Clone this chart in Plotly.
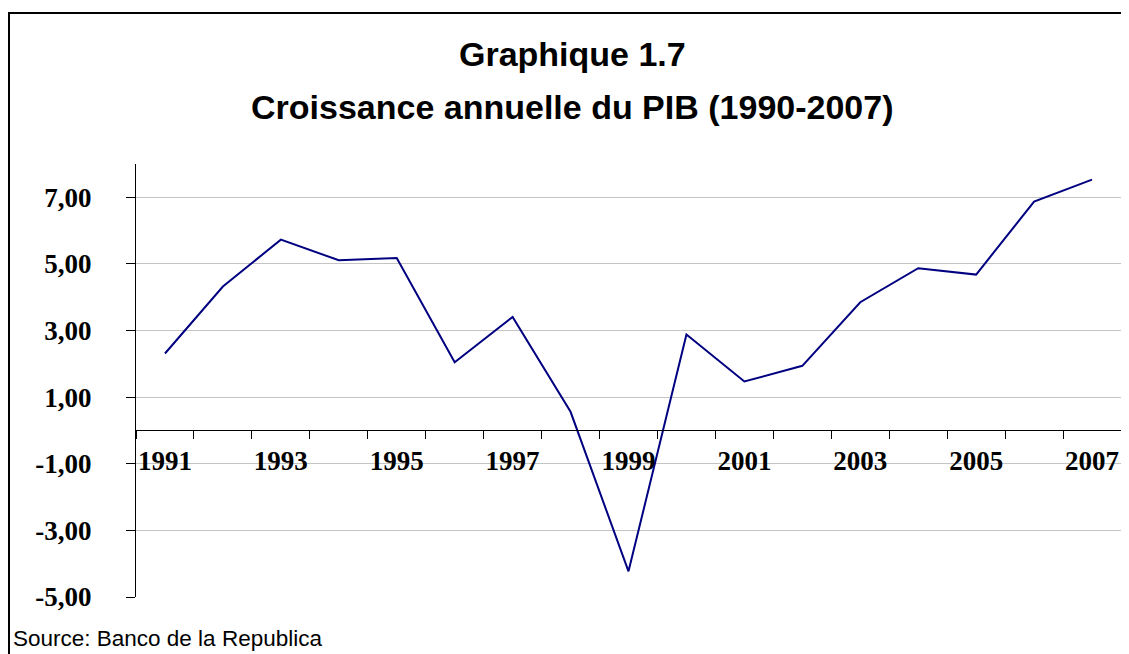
import plotly.graph_objects as go

years = list(range(1991, 2008))
growth = [2.31, 4.32, 5.73, 5.11, 5.18, 2.05, 3.41, 0.56, -4.23, 2.88,
          1.47, 1.94, 3.85, 4.87, 4.68, 6.87, 7.53]
label_years = [1991, 1993, 1995, 1997, 1999, 2001, 2003, 2005, 2007]
y_ticks = [-5, -3, -1, 1, 3, 5, 7]
y_labels = ["-5,00", "-3,00", "-1,00", "1,00", "3,00", "5,00", "7,00"]
title_line1 = "Graphique 1.7"
title_line2 = "Croissance annuelle du PIB (1990-2007)"
source_text = "Source: Banco de la Republica"

OFF = 8  # page body margin
W, H = 1129 - OFF, 654 - OFF
# plot area in screen pixels: x 136..1121, y 164..597
L = 136 - OFF
R = W - (1121 - OFF)
T = 164 - OFF
B = H - (597 - OFF)
pw, ph = W - L - R, H - T - B

def px_x(sx):
    return (sx - OFF - L) / pw

def px_y(sy):
    return (H - B - (sy - OFF)) / ph

ymin, ymax = -5, 8

fig = go.Figure()
fig.add_trace(go.Scatter(
    x=years, y=growth, mode="lines",
    line=dict(color="#000080", width=2),
    showlegend=False, hoverinfo="x+y"))

serif = "Liberation Serif, Times New Roman, serif"
sans = "Liberation Sans, Arial, sans-serif"

fig.update_layout(
    width=W, height=H,
    margin=dict(l=L, r=R, t=T, b=B),
    paper_bgcolor="white", plot_bgcolor="white",
    xaxis=dict(
        range=[1990.5, 2007.5],
        tickvals=label_years,
        ticktext=[str(y) for y in label_years],
        ticks="", showgrid=False, zeroline=False,
        showline=True, linecolor="black", linewidth=1,
        anchor="free", position=(0 - ymin) / (ymax - ymin),
        tickfont=dict(family=serif, size=27, color="black", weight="bold"),
        ticklabelstandoff=6,
        minor=dict(tick0=1990.5, dtick=1, ticks="outside", ticklen=8,
                   tickcolor="black", tickwidth=1, showgrid=False),
    ),
    yaxis=dict(
        range=[ymin, ymax],
        tickvals=y_ticks, ticktext=y_labels,
        ticks="outside", ticklen=9, tickcolor="black",
        showgrid=True, gridcolor="#c4c4c4", gridwidth=1,
        zeroline=False, showline=True, linecolor="black", linewidth=1,
        tickfont=dict(family=serif, size=27, color="black", weight="bold"),
        ticklabelstandoff=29,
    ),
    annotations=[
        dict(text="<b>" + title_line1 + "</b>", x=px_x(572), y=px_y(54),
             xref="paper", yref="paper", xanchor="center", yanchor="middle",
             showarrow=False, font=dict(family=sans, size=34, color="black")),
        dict(text="<b>" + title_line2 + "</b>", x=px_x(572), y=px_y(107),
             xref="paper", yref="paper", xanchor="center", yanchor="middle",
             showarrow=False, font=dict(family=sans, size=34, color="black")),
        dict(text=source_text, x=px_x(11), y=px_y(638),
             xref="paper", yref="paper", xanchor="left", yanchor="middle",
             showarrow=False, font=dict(family=sans, size=22.5, color="black")),
    ],
    shapes=[
        dict(type="line", xref="paper", yref="paper",
             x0=px_x(9), x1=px_x(9), y0=px_y(660), y1=px_y(13),
             line=dict(color="black", width=2)),
        dict(type="line", xref="paper", yref="paper",
             x0=px_x(8), x1=px_x(1135), y0=px_y(13), y1=px_y(13),
             line=dict(color="black", width=2)),
    ],
)

fig.write_html("out.html")
